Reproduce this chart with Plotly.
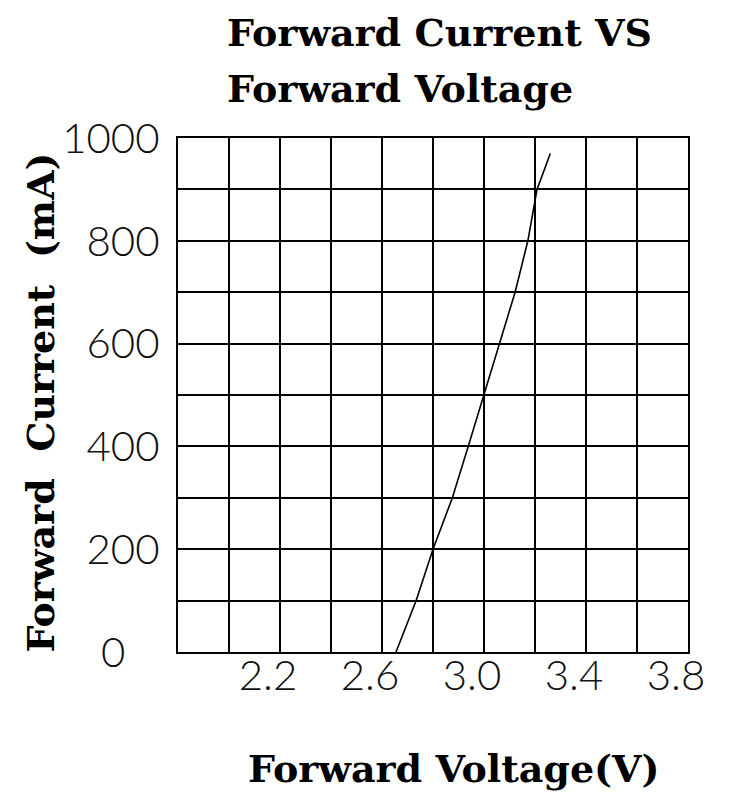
import plotly.graph_objects as go

# Data
voltage = [2.655, 2.734, 2.800, 2.876, 2.938, 3.000, 3.063, 3.122, 3.172, 3.208, 3.260]
current = [0, 100, 200, 300, 400, 500, 600, 700, 800, 900, 970]

x_tickvals = [2.2, 2.6, 3.0, 3.4, 3.8]
x_ticktext = ["2.2", "2.6", "3.0", "3.4", "3.8"]
y_tickvals = [0, 200, 400, 600, 800, 1000]
y_ticktext = ["0" + "\u00a0" * 3, "200", "400", "600", "800", "1000"]

title_line1 = "Forward Current VS"
title_line2 = "Forward Voltage"
x_title = "Forward Voltage(V)"
y_title = "Forward\u00a0\u00a0Current\u00a0\u00a0(mA)"

serif = "DejaVu Serif"
tickfont = dict(family="Lato", size=42, color="#111", weight=300)

fig = go.Figure()
fig.add_trace(go.Scatter(x=voltage, y=current, mode="lines",
                         line=dict(color="black", width=1.6),
                         showlegend=False, hoverinfo="skip"))

fig.update_layout(
    width=738, height=792,
    margin=dict(l=170, r=58, t=130, b=148),
    paper_bgcolor="white", plot_bgcolor="white",
    showlegend=False,
)
fig.update_xaxes(
    range=[1.8, 3.8], automargin=False,
    showgrid=True, gridcolor="black", gridwidth=1.5,
    showline=True, linecolor="black", linewidth=2, mirror=True,
    zeroline=False, ticks="",
    tickmode="array", tickvals=x_tickvals, ticktext=x_ticktext,
    tickfont=tickfont, ticklabelshift=-12, ticklabelstandoff=-14,
    minor=dict(dtick=0.2, tick0=1.8, showgrid=True, gridcolor="black", gridwidth=1.5),
)
fig.update_yaxes(
    range=[0, 1000], automargin=False,
    showgrid=True, gridcolor="black", gridwidth=1.5,
    showline=True, linecolor="black", linewidth=2, mirror=True,
    zeroline=False, ticks="",
    tickmode="array", tickvals=y_tickvals, ticktext=y_ticktext,
    tickfont=tickfont, ticklabelstandoff=8,
    minor=dict(dtick=100, tick0=0, showgrid=True, gridcolor="black", gridwidth=1.5),
)

title_font = dict(family=serif, size=38, color="black", weight="bold")
fig.add_annotation(text=title_line1, xref="paper", yref="paper", x=0.092, y=1.206,
                   xanchor="left", yanchor="middle", showarrow=False, font=title_font)
fig.add_annotation(text=title_line2, xref="paper", yref="paper", x=0.092, y=1.097,
                   xanchor="left", yanchor="middle", showarrow=False, font=title_font)
fig.add_annotation(text=x_title, xref="paper", yref="paper", x=0.541, y=-0.226,
                   xanchor="center", yanchor="middle", showarrow=False, font=title_font)
fig.add_annotation(text=y_title, xref="paper", yref="paper", x=-0.27, y=0.486,
                   xanchor="center", yanchor="middle", showarrow=False, textangle=-90,
                   font=title_font)

fig.write_html("out.html")
